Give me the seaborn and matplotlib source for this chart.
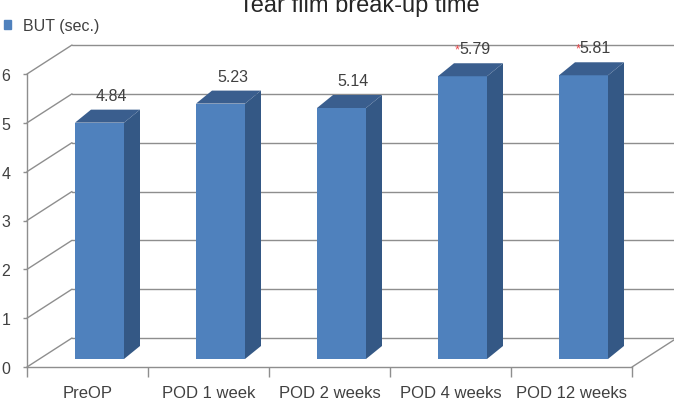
import pandas as pd
import matplotlib
matplotlib.use("Agg")
import matplotlib.pyplot as plt
import seaborn as sns
from matplotlib.patches import Polygon, Patch

categories = ["PreOP", "POD 1 week", "POD 2 weeks", "POD 4 weeks", "POD 12 weeks"]
but_values = [4.84, 5.23, 5.14, 5.79, 5.81]
value_labels = ["4.84", "5.23", "5.14", "5.79", "5.81"]
significant = [False, False, False, True, True]
y_ticks = [0, 1, 2, 3, 4, 5, 6]

front_c = "#4f81bd"
top_c = "#3a5e8e"
side_c = "#345885"
grid_c = "#8e8e8e"
text_c = "#404040"

sns.set_style("white")
plt.rcParams["font.family"] = ["Liberation Sans", "DejaVu Sans"]

fig = plt.figure(figsize=(6.74, 4.06), dpi=100)
# axes box = front plane of the 3d chart (0..6 on y)
ax = fig.add_axes([27 / 674, 38 / 406, 605 / 674, 293 / 406])

df = pd.DataFrame({"Period": categories, "BUT": but_values})

# pixel sizes in data units
px_x = 1 / 121.0
px_y = 6 / 293.0
wall_dx, wall_dy = 45 * px_x, 29 * px_y
bar_dx, bar_dy = 12 * px_x, 8 * px_y
dep_dx, dep_dy = 16 * px_x, 13 * px_y

sns.barplot(data=df, x="Period", y="BUT", color=front_c, saturation=1,
            width=49 / 121, errorbar=None, ax=ax, zorder=3, linewidth=0)

ax.set_xlim(-0.5, 4.5)
ax.set_ylim(0, 6)

# back wall gridlines + side wall diagonals
for v in y_ticks:
    ax.plot([-0.5, -0.5 + wall_dx], [v, v + wall_dy], color=grid_c, lw=1.0,
            clip_on=False, zorder=1)
    ax.plot([-0.5 + wall_dx, 5.2], [v + wall_dy, v + wall_dy], color=grid_c,
            lw=1.0, clip_on=False, zorder=1)
# floor right edge
ax.plot([4.5, 4.5 + wall_dx], [0, wall_dy], color=grid_c, lw=1.0,
        clip_on=False, zorder=1)

# fake 3d bars: shift front faces back a little, add top and side faces
for p, lab, star in zip(ax.patches, value_labels, significant):
    p.set_x(p.get_x() + bar_dx)
    p.set_y(bar_dy)
    p.set_clip_on(False)
    x0, w, y0, h = p.get_x(), p.get_width(), p.get_y(), p.get_height()
    top = y0 + h
    side = [(x0 + w, y0), (x0 + w + dep_dx, y0 + dep_dy),
            (x0 + w + dep_dx, top + dep_dy), (x0 + w, top)]
    lid = [(x0, top), (x0 + dep_dx, top + dep_dy),
           (x0 + w + dep_dx, top + dep_dy), (x0 + w, top)]
    ax.add_patch(Polygon(side, closed=True, color=side_c, lw=0, zorder=3, clip_on=False))
    ax.add_patch(Polygon(lid, closed=True, color=top_c, lw=0, zorder=3, clip_on=False))

    cx = x0 + w / 2
    ax.annotate(lab, (cx, top), xytext=(12, 23), textcoords="offset pixels",
                ha="center", va="baseline", fontsize=11.5, color=text_c,
                annotation_clip=False, zorder=4)
    if star:
        ax.annotate("*", (cx, top), xytext=(-3, 24), textcoords="offset pixels",
                    ha="right", va="baseline", fontsize=9, color="#e8474a",
                    annotation_clip=False, zorder=4)

# axes styling
for s in ["top", "right"]:
    ax.spines[s].set_visible(False)
for s in ["left", "bottom"]:
    ax.spines[s].set_color(grid_c)
    ax.spines[s].set_linewidth(1.0)
    ax.spines[s].set_zorder(1)

ax.set_yticks(y_ticks)
ax.set_xticks(range(len(categories)))
ax.set_xticklabels(categories)
ax.set_xticks([i - 0.5 for i in range(len(categories) + 1)], minor=True)
ax.tick_params(axis="y", left=True, length=3, width=1, color=grid_c, pad=9,
               labelsize=11.5, labelcolor=text_c)
ax.tick_params(axis="x", which="major", bottom=False, length=0, pad=13,
               labelsize=12, labelcolor=text_c)
ax.tick_params(axis="x", which="minor", bottom=True, length=7, width=1,
               color=grid_c, direction="out")
ax.set_xlabel("")
ax.set_ylabel("")

fig.legend(handles=[Patch(color=front_c, label="BUT (sec.)")],
           loc="upper left", bbox_to_anchor=(4 / 674, 1 - 19 / 406),
           frameon=False, fontsize=11.5, handlelength=0.45, handleheight=0.45,
           handletextpad=0.75, borderpad=0, borderaxespad=0, labelcolor=text_c)

fig.text(359.5 / 674, 1 - 12 / 406, "Tear film break-up time", ha="center",
         va="baseline", fontsize=17, color="#262626")

fig.savefig("out.png", dpi=100)
